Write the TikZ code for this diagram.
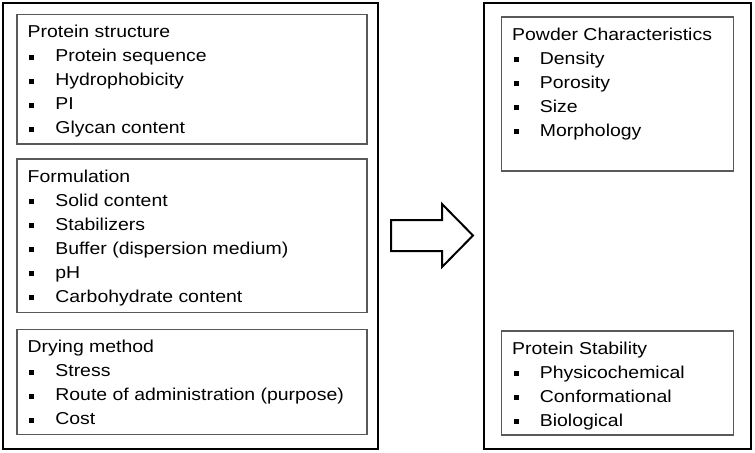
\documentclass[tikz,border=0pt]{standalone}
\usepackage{fontspec}
\setmainfont{Liberation Sans}[FakeStretch=1.13]
\usetikzlibrary{
    backgrounds
}
\newcommand{\listbullet}{\rule[1pt]{2.5pt}{2.5pt}\hspace{10.5pt}}
\tikzset{
    outer box/.style={
        draw=black,
        line width=1pt
    },
    inner box/.style={
        draw=black!65,
        line width=0.6pt
    },
    list text/.style={
        anchor=base west,
        inner sep=0pt,
        font=\fontsize{8.6pt}{12pt}\selectfont
    },
    block arrow/.style={
        draw=black,
        fill=white,
        line width=1pt,
        line join=miter
    }
}
% #1 name, #2/#3 top left corner, #4/#5 bottom right corner, #6 title, #7 items
\newcommand{\drawlist}[7]{%
    \draw[inner box] (#2,#3) rectangle (#4,#5);
    \node[list text] (#1-title) at ({#2+10.3},{#3+23}) {#6};
    \foreach \itm [count=\k] in {#7} {
        \node[list text] (#1-\k) at ({#2+12},{#3+23+24*\k}) {\listbullet\itm};
    }
}

\begin{document}
\begin{tikzpicture}[x=0.5pt, y=-0.5pt]

    \useasboundingbox (0,0) rectangle (755,452);

    % Outer frames.
    \draw[outer box] (3,3) rectangle (377.5,449);
    \draw[outer box] (484,3) rectangle (751,449);

    % -------------------------------------------------------------------------
    % Left: process and formulation factors.
    % -------------------------------------------------------------------------
    \drawlist{structure}{17}{14.5}{367}{144}{Protein structure}
        {Protein sequence, Hydrophobicity, PI, Glycan content}
    \drawlist{formulation}{17}{159}{367}{312.5}{Formulation}
        {Solid content, Stabilizers, Buffer (dispersion medium), pH,
         Carbohydrate content}
    \drawlist{drying}{17}{329.5}{367}{434.5}{Drying method}
        {Stress, Route of administration (purpose), Cost}

    % -------------------------------------------------------------------------
    % Right: resulting product attributes.
    % -------------------------------------------------------------------------
    \drawlist{powder}{501.5}{17}{733.5}{171}{Powder Characteristics}
        {Density, Porosity, Size, Morphology}
    \drawlist{stability}{501.5}{331}{733.5}{435}{Protein Stability}
        {Physicochemical, Conformational, Biological}

    % Block arrow between the frames.
    \draw[block arrow] (391,220) -- (442,220) -- (442,204) -- (473,235.5)
        -- (442,267) -- (442,251) -- (391,251) -- cycle;

\end{tikzpicture}
\end{document}
